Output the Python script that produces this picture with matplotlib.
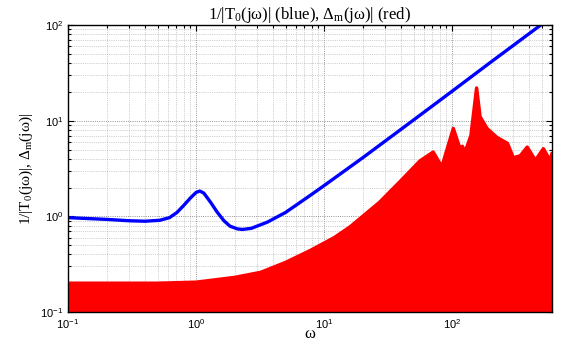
import numpy as np
import matplotlib
matplotlib.use("Agg")
import matplotlib.pyplot as plt

# ---- blue: 1/|T0(jw)| ----
w_blue = [0.1, 0.2, 0.3, 0.4, 0.52, 0.62, 0.71, 0.8, 0.9, 1.0, 1.07, 1.15,
          1.3, 1.46, 1.65, 1.84, 2.1, 2.3, 2.7, 3.6, 5.0, 7.8, 10, 20, 50,
          100, 200, 490, 600]
mag_blue = [0.97, 0.93, 0.90, 0.89, 0.91, 0.97, 1.1, 1.3, 1.55, 1.78, 1.84,
            1.75, 1.4, 1.11, 0.9, 0.79, 0.74, 0.73, 0.75, 0.87, 1.1, 1.66,
            2.1, 4.1, 10.2, 20.4, 41, 100, 122]

# ---- red: upper envelope of the Delta_m(jw) family ----
w_red = [0.1, 0.5, 1.0, 2.0, 3.2, 5.0, 7.8, 12, 16, 27, 39, 56, 71, 83,
         102, 115, 120, 126, 140, 155, 165, 187, 223, 270, 300, 340, 385,
         446, 515, 580, 600]
mag_red = [0.2, 0.2, 0.205, 0.23, 0.26, 0.33, 0.44, 0.6, 0.78, 1.4, 2.3,
           3.8, 4.7, 3.3, 8.3, 5.1, 5.4, 4.7, 7.0, 22, 11, 8.3, 6.7, 5.8,
           4.1, 4.3, 5.3, 3.85, 5.1, 3.85, 4.5]

# second visible branch after the big resonance
w_red2 = [140, 155, 170, 190, 220, 260, 300, 350, 400, 446, 500, 560, 600]
mag_red2 = [6.0, 12.0, 8.0, 6.2, 5.0, 4.3, 3.9, 4.0, 4.6, 3.7, 4.3, 3.6, 3.9]

plt.rcParams["font.family"] = ["Liberation Sans", "DejaVu Sans"]
plt.rcParams["mathtext.fontset"] = "custom"
plt.rcParams["mathtext.rm"] = "Liberation Serif"
plt.rcParams["mathtext.it"] = "Liberation Serif:italic"

fig = plt.figure(figsize=(5.62, 3.44), dpi=100)
ax = fig.add_axes([0.121, 0.093, 0.861, 0.834])
ax.set_axisbelow(True)

ax.fill_between(w_red, 0.05, mag_red, color="red", lw=0, zorder=2)
ax.plot(w_red, mag_red, color="red", lw=2.5, solid_joinstyle="round", zorder=2)
ax.plot(w_red2, mag_red2, color="red", lw=2.5, zorder=2)
ax.plot(w_blue, mag_blue, color="blue", lw=2.4, zorder=3)

ax.set_xscale("log")
ax.set_yscale("log")
ax.set_xlim(0.1, 600)
ax.set_ylim(0.1, 100)

ax.grid(True, which="major", ls=":", color="0.45", lw=0.6)
ax.grid(True, which="minor", ls=":", color="0.65", lw=0.5)
ax.tick_params(which="both", direction="in", top=True, right=True,
               labelsize=8, width=0.8)
ax.tick_params(which="major", length=4)
ax.tick_params(which="minor", length=2)
for s in ax.spines.values():
    s.set_linewidth(1.0)
    s.set_zorder(4)

serif = ["Liberation Serif", "DejaVu Serif"]
ax.set_title("1/|T$_0$(jω)| (blue), Δ$_{\\mathrm{m}}$(jω)| (red)",
             family=serif, fontsize=12, pad=3)
ax.set_ylabel("1/|T$_0$(jω)|, Δ$_{\\mathrm{m}}$(jω)|",
              family=serif, fontsize=11, labelpad=4)
ax.set_xlabel("ω", family=serif, fontsize=12)
ax.xaxis.set_label_coords(0.5, -0.05)

fig.savefig("out.png", dpi=100)
